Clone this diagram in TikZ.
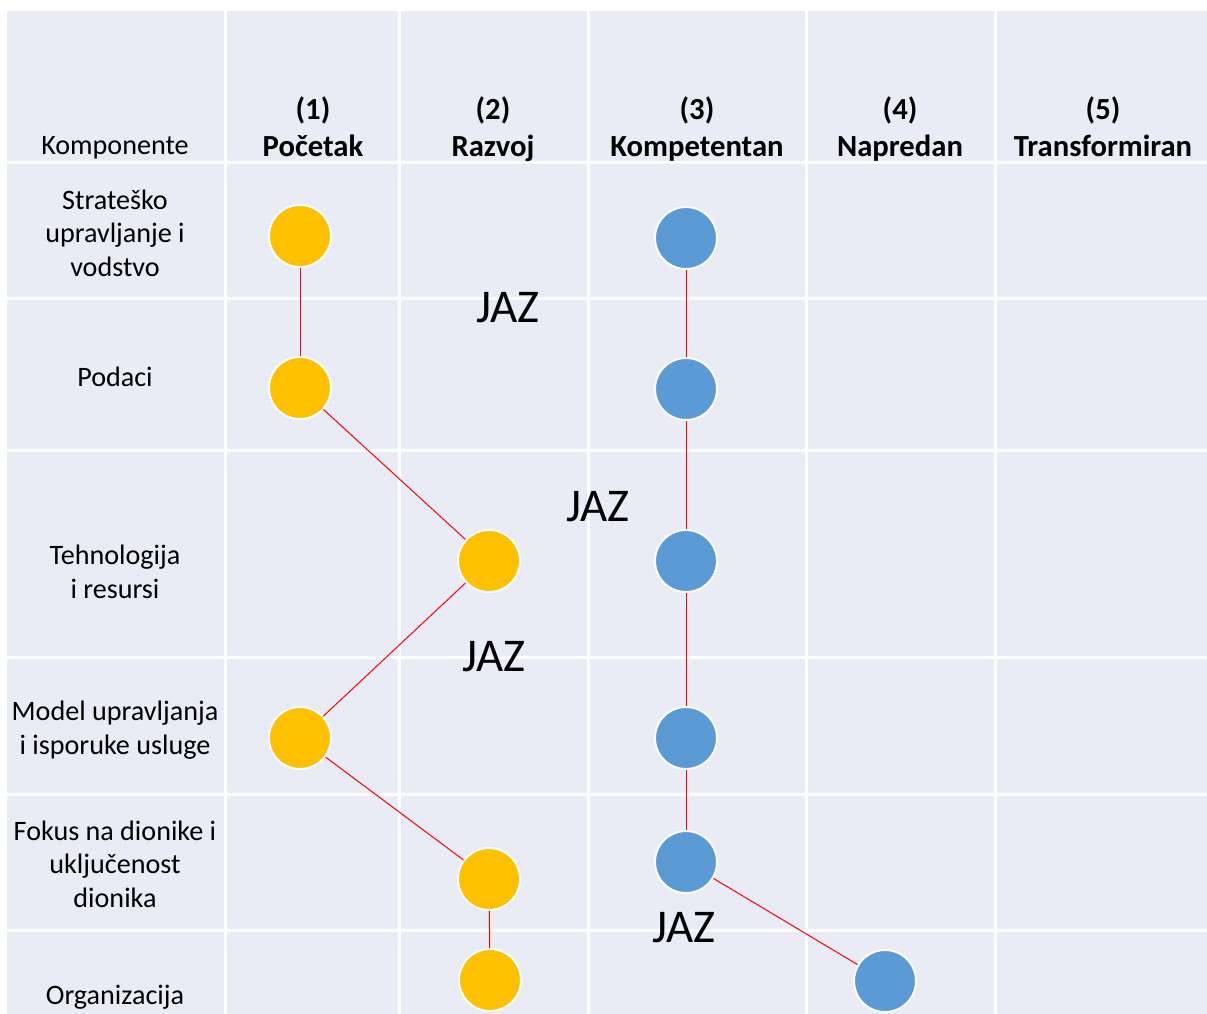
\documentclass[tikz,border=0pt]{standalone}
\usepackage{fontspec}
\setmainfont{Carlito}

\definecolor{tablebg}{HTML}{E9EBF5}
\definecolor{nowyellow}{HTML}{FFC000}
\definecolor{goalblue}{HTML}{5B9BD5}
\definecolor{gapred}{HTML}{FF0000}

\tikzset{every picture/.style={line width=0.75pt}}
\tikzset{
  cellline/.style={draw=white, line width=2.25pt},
  nowdot/.style={circle, fill=nowyellow, draw=white, line width=1.5pt, minimum size=46.5pt, inner sep=0pt},
  goaldot/.style={circle, fill=goalblue, draw=white, line width=1.5pt, minimum size=46.5pt, inner sep=0pt},
  gapline/.style={draw=gapred, line width=0.75pt},
  rowtext/.style={inner sep=0.75pt, align=center, font=\fontsize{21.1}{25.1}\selectfont},
  headtext/.style={inner sep=0.75pt, align=center, text depth=5.6pt, font=\fontsize{23}{27.75}\selectfont\bfseries},
  gaptext/.style={inner sep=0.75pt, font=\fontsize{35.2}{41}\selectfont},
}

\begin{document}
\begin{tikzpicture}[x=0.75pt,y=0.75pt,yscale=-1,xscale=1]
\useasboundingbox (0,0) rectangle (1207,1014);

%Shape: Rectangle [id:table]
\fill[white] (0,0) rectangle (1207,1014);
\fill[tablebg] (7,11) rectangle (1207,1014);

%Straight Lines [id:col lines]
\draw[cellline] (225,11) -- (225,1014);
\draw[cellline] (399,11) -- (399,1014);
\draw[cellline] (588,11) -- (588,1014);
\draw[cellline] (806,11) -- (806,1014);
\draw[cellline] (995,11) -- (995,1014);
%Straight Lines [id:row lines]
\draw[cellline] (7,162) -- (1207,162);
\draw[cellline] (7,298) -- (1207,298);
\draw[cellline] (7,450) -- (1207,450);
\draw[cellline] (7,657) -- (1207,657);
\draw[cellline] (7,794) -- (1207,794);
\draw[cellline] (7,930) -- (1207,930);

% Text Node
\node[rowtext] (komp) at (115,148) {Komponente};
% Text Node
\node[headtext] (lvl1) at (313,130.5) {(1)\\Početak};
% Text Node
\node[headtext] (lvl2) at (493,130.5) {(2)\\Razvoj};
% Text Node
\node[headtext] (lvl3) at (697,130.5) {(3)\\Kompetentan};
% Text Node
\node[headtext] (lvl4) at (900,130.5) {(4)\\Napredan};
% Text Node
\node[headtext] (lvl5) at (1103,130.5) {(5)\\Transformiran};

% Text Node
\node[rowtext] (row1) at (115,233) {Strateško\\upravljanje i\\vodstvo};
% Text Node
\node[rowtext] (row2) at (115,377) {Podaci};
% Text Node
\node[rowtext] (row3) at (115,572) {Tehnologija\\i resursi};
% Text Node
\node[rowtext] (row4) at (115,730) {Model upravljanja\\i isporuke usluge};
% Text Node
\node[rowtext] (row5) at (115,864) {Fokus na dionike i\\uključenost\\dionika};
% Text Node
\node[rowtext] (row6) at (115,997) {Organizacija};

%Shape: Circle [id:now]
\node[nowdot] (now1) at (300,236) {};
\node[nowdot] (now2) at (300,388) {};
\node[nowdot] (now3) at (489,561) {};
\node[nowdot] (now4) at (300,738) {};
\node[nowdot] (now5) at (489,879) {};
\node[nowdot] (now6) at (490,980) {};
%Shape: Circle [id:goal]
\node[goaldot] (goal1) at (686,238) {};
\node[goaldot] (goal2) at (686,389) {};
\node[goaldot] (goal3) at (686,561) {};
\node[goaldot] (goal4) at (686,738) {};
\node[goaldot] (goal5) at (686,862) {};
\node[goaldot] (goal6) at (885,981) {};

%Straight Lines [id:now path]
\draw[gapline] (now1) -- (now2);
\draw[gapline] (now2) -- (now3);
\draw[gapline] (now3) -- (now4);
\draw[gapline] (now4) -- (now5);
\draw[gapline] (now5) -- (now6);
%Straight Lines [id:goal path]
\draw[gapline] (goal1) -- (goal2);
\draw[gapline] (goal2) -- (goal3);
\draw[gapline] (goal3) -- (goal4);
\draw[gapline] (goal4) -- (goal5);
\draw[gapline] (goal5) -- (goal6);

% Text Node
\node[gaptext] (gap1) at (508,308) {JAZ};
% Text Node
\node[gaptext] (gap2) at (598,507) {JAZ};
% Text Node
\node[gaptext] (gap3) at (494,657) {JAZ};
% Text Node
\node[gaptext] (gap4) at (684,928) {JAZ};

\end{tikzpicture}
\end{document}
